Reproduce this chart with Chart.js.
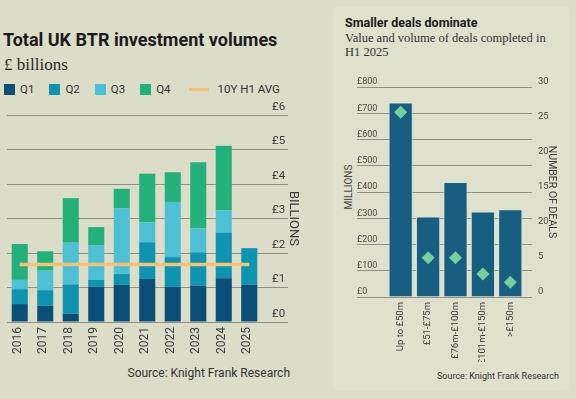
<!DOCTYPE html>
<html>
<head>
<meta charset="utf-8">
<script src="https://cdn.jsdelivr.net/npm/chart.js@4/dist/chart.umd.min.js"></script>
<style>
  html, body { margin:0; padding:0; }
  body { width:576px; height:399px; background:#dcddc8; position:relative; overflow:hidden; font-family: Roboto, "Noto Sans", sans-serif; color:#222; }
  .abs { position:absolute; white-space:nowrap; }
  #panel { position:absolute; left:333px; top:6px; width:236px; height:384px; background:#e0e1cd; border-radius:4px; }
  #t1 { left:3px; top:31px; font-size:18px; line-height:18px; font-weight:700; color:#1b1b1b; }
  #t1s { left:4px; top:56px; font-family:"Liberation Serif", serif; font-size:17px; line-height:17px; color:#2a2a2a; }
  #legend { left:4px; top:83px; display:flex; align-items:center; font-size:11.5px; line-height:12px; color:#333; }
  #legend .it { display:flex; align-items:center; margin-right:15px; }
  #legend .box { width:11px; height:11px; margin-right:5px; }
  #legend .ln { width:20px; height:3px; margin-right:9px; margin-left:3px; }
  #src1 { right:286px; top:367px; font-size:12px; line-height:12px; color:#333; }
  #t2 { left:345px; top:16.5px; font-size:12.5px; line-height:12.5px; font-weight:700; color:#1b1b1b; }
  #t2s { left:345px; top:30.5px; font-family:"Liberation Serif", serif; font-size:12.5px; line-height:14.5px; color:#333; }
  #src2 { left:437px; top:372px; font-size:9px; line-height:9px; color:#333; }
  #mil { left:349px; top:187px; font-size:10px; line-height:10px; color:#444; transform: translate(-50%,-50%) rotate(-90deg); }
  #c1wrap { position:absolute; left:0; top:0; width:310px; height:399px; }
  #c2wrap { position:absolute; left:330px; top:0; width:246px; height:399px; }
</style>
</head>
<body>
<div id="panel"></div>
<div class="abs" id="t1">Total UK BTR investment volumes</div>
<div class="abs" id="t1s">£ billions</div>
<div class="abs" id="legend"></div>
<div class="abs" id="src1">Source: Knight Frank Research</div>
<div class="abs" id="t2">Smaller deals dominate</div>
<div class="abs" id="t2s">Value and volume of deals completed in<br>H1 2025</div>
<div class="abs" id="src2">Source: Knight Frank Research</div>
<div class="abs" id="mil">MILLIONS</div>
<div id="c1wrap"><canvas id="c1" width="310" height="399"></canvas></div>
<div id="c2wrap"><canvas id="c2" width="246" height="399"></canvas></div>
<script>
// ---------- Left chart data ----------
const years = ['2016','2017','2018','2019','2020','2021','2022','2023','2024','2025'];
const q1 = [0.52, 0.47, 0.24, 1.02, 1.08, 1.25, 1.02, 1.05, 1.27, 1.08];
const q2 = [0.43, 0.45, 0.85, 0.20, 0.31, 1.06, 0.86, 0.97, 1.32, 1.06];
const q3 = [0.27, 0.57, 1.21, 1.00, 1.90, 0.58, 1.60, 0.69, 0.64, null];
const q4 = [1.04, 0.56, 1.29, 0.53, 0.57, 1.41, 0.86, 1.92, 1.88, null];
const avgH1 = [1.67, 1.67, 1.67, 1.67, 1.67, 1.67, 1.67, 1.67, 1.67, 1.67];
const seriesNames = ['Q1','Q2','Q3','Q4','10Y H1 AVG'];
const billionTicks = ['£0','£1','£2','£3','£4','£5','£6'];

// ---------- Right chart data ----------
const dealBands = ['Up to £50m','£51-£75m','£76m-£100m','£101m-£150m','>£150m'];
const dealValue = [741, 307, 438, 326, 334];
const dealCount = [26.4, 5.6, 5.6, 3.3, 2.1];
const millionTicks = ['£0','£100','£200','£300','£400','£500','£600','£700','£800'];
const dealTicks = ['0','5','20','15','20','25','30'];

const colQ = ['#0a4f77', '#0e93b0', '#4ec0d4', '#23b07a'];
const colAvg = '#f2c277';
const gridCol = '#8f9187';

// HTML legend built from names
const lg = document.getElementById('legend');
seriesNames.forEach((n, i) => {
  const it = document.createElement('div'); it.className = 'it';
  const b = document.createElement('div');
  if (i < 4) { b.className = 'box'; b.style.background = colQ[i]; }
  else { b.className = 'ln'; b.style.background = colAvg; }
  const t = document.createElement('span'); t.textContent = n;
  it.appendChild(b); it.appendChild(t); lg.appendChild(it);
});

const FONT = 'Roboto, "Noto Sans", sans-serif';

new Chart(document.getElementById('c1'), {
  data: {
    labels: years,
    datasets: [
      { type:'bar', label: seriesNames[0], data: q1, backgroundColor: colQ[0], order: 1, stack:'q' },
      { type:'bar', label: seriesNames[1], data: q2, backgroundColor: colQ[1], order: 1, stack:'q' },
      { type:'bar', label: seriesNames[2], data: q3, backgroundColor: colQ[2], order: 1, stack:'q' },
      { type:'bar', label: seriesNames[3], data: q4, backgroundColor: colQ[3], order: 1, stack:'q' },
      { type:'line', label: seriesNames[4], data: avgH1, borderColor: colAvg, borderWidth: 3.5, pointRadius: 0, order: 0, stack:'avg', fill:false }
    ]
  },
  options: {
    responsive: false,
    animation: false,
    layout: { padding: { left: 7, right: 9, top: 115, bottom: 37 } },
    datasets: { bar: { categoryPercentage: 1, barPercentage: 0.63 } },
    plugins: { legend: { display: false }, tooltip: { enabled: false } },
    scales: {
      x: {
        stacked: true,
        grid: { display: false, drawTicks: false },
        border: { display: false },
        ticks: { minRotation: 90, maxRotation: 90, autoSkip: false, padding: 5, labelOffset: -2,
                 color: '#3a3a3a', font: { family: FONT, size: 12 } },
        afterFit: (s) => { s.height = 40; }
      },
      y: {
        position: 'right',
        stacked: true,
        min: 0, max: 6,
        grid: { color: gridCol, lineWidth: 1, drawTicks: true, tickLength: 26 },
        border: { display: false },
        ticks: { stepSize: 1, padding: -16, labelOffset: -8, color: '#3a3a3a',
                 font: { family: FONT, size: 11.5 },
                 callback: (v) => billionTicks[v] },
        title: { display: true, text: 'BILLIONS', color: '#3a3a3a', padding: 0,
                 font: { family: FONT, size: 13 } },
        afterFit: (s) => { s.width = 39; }
      }
    }
  }
});

new Chart(document.getElementById('c2'), {
  data: {
    labels: dealBands,
    datasets: [
      { type:'line', label: 'Number of deals', data: dealCount, yAxisID: 'y1', showLine: false,
        pointStyle: 'rectRot', pointRadius: 6.5, pointBackgroundColor: '#74d09c', pointBorderWidth: 0, order: 0 },
      { type:'bar', label: 'Value', data: dealValue, yAxisID: 'y', backgroundColor: '#175e80',
        borderColor: '#cfe1dc', borderWidth: 1, categoryPercentage: 1, barPercentage: 0.885, order: 1 }
    ]
  },
  options: {
    responsive: false,
    animation: false,
    layout: { padding: { left: 27, right: 18, top: 87, bottom: 37 } },
    plugins: { legend: { display: false }, tooltip: { enabled: false } },
    scales: {
      x: {
        grid: { display: false, drawTicks: false },
        border: { display: false },
        ticks: { minRotation: 90, maxRotation: 90, autoSkip: false, padding: 5,
                 color: '#3a3a3a', font: { family: FONT, size: 9.5 } },
        afterFit: (s) => { s.height = 65; }
      },
      y: {
        position: 'left',
        min: 0, max: 800,
        grid: { color: gridCol, lineWidth: 1, drawTicks: true, tickLength: 30 },
        border: { display: false },
        ticks: { stepSize: 100, crossAlign: 'far', labelOffset: -5, color: '#4a4a4a',
                 font: { family: FONT, size: 9 }, callback: (v) => millionTicks[v / 100] },
        afterFit: (s) => { s.width = 30; }
      },
      y2: {
        position: 'right', weight: 0,
        min: 0, max: 800,
        grid: { color: gridCol, lineWidth: 1, drawOnChartArea: false, drawTicks: true, tickLength: 8 },
        border: { display: false },
        ticks: { stepSize: 100, display: false },
        afterFit: (s) => { s.width = 8; }
      },
      y1: {
        position: 'right', weight: 1,
        min: 0, max: 30,
        grid: { display: false, drawTicks: false },
        border: { display: false },
        ticks: { stepSize: 5, padding: 6, labelOffset: -5, color: '#4a4a4a',
                 font: { family: FONT, size: 9.5 }, callback: (v) => dealTicks[v / 5] },
        title: { display: true, text: 'NUMBER OF DEALS', color: '#3a3a3a', padding: 0,
                 font: { family: FONT, size: 10.5 } },
        afterFit: (s) => { s.width = 26; }
      }
    }
  }
});
</script>
</body>
</html>
